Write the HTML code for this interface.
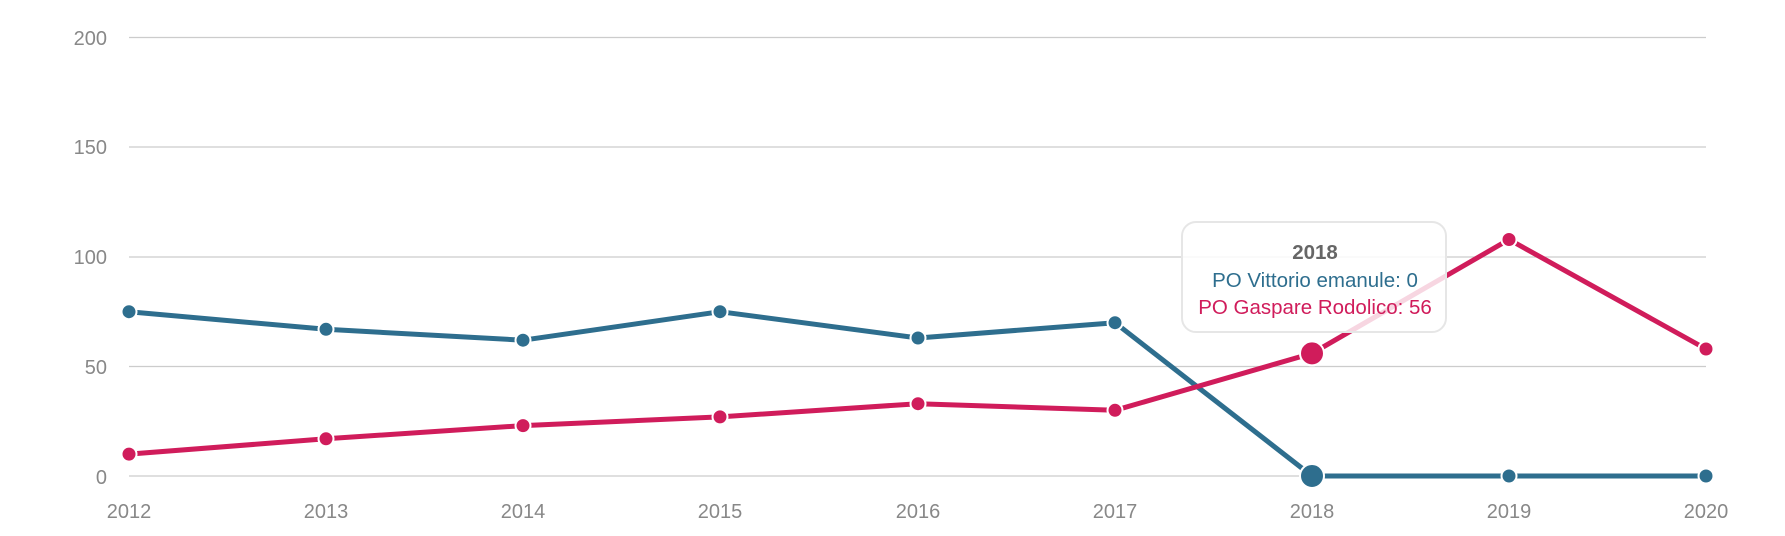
<!DOCTYPE html><html><head><style>body{margin:0;background:#fff}svg{display:block}text{font-family:"Liberation Sans",Arial,sans-serif}</style></head><body>
<svg width="1785" height="536" viewBox="0 0 1785 536">
<g stroke="#ccc" stroke-width="1.2">
<line x1="129" x2="1706" y1="37.5" y2="37.5"/><line x1="129" x2="1706" y1="147" y2="147"/><line x1="129" x2="1706" y1="257" y2="257"/><line x1="129" x2="1706" y1="366.5" y2="366.5"/><line x1="129" x2="1706" y1="476" y2="476"/>
</g>
<g fill="#888" font-size="20" text-anchor="end">
<text x="107" y="45">200</text><text x="107" y="154">150</text><text x="107" y="264">100</text><text x="107" y="374">50</text><text x="107" y="484">0</text>
</g>
<g fill="#888" font-size="20" text-anchor="middle">
<text x="129" y="518">2012</text><text x="326" y="518">2013</text><text x="523" y="518">2014</text><text x="720" y="518">2015</text><text x="918" y="518">2016</text><text x="1115" y="518">2017</text><text x="1312" y="518">2018</text><text x="1509" y="518">2019</text><text x="1706" y="518">2020</text>
</g>
<polyline fill="none" stroke="#2e6e8e" stroke-width="5" stroke-linejoin="round" points="129,311.7 326,329.3 523,340.2 720,311.7 918,338 1115,322.7 1312,476 1509,476 1706,476"/>
<polyline fill="none" stroke="#d01c5b" stroke-width="5" stroke-linejoin="round" points="129,454.1 326,438.8 523,425.6 720,416.9 918,403.7 1115,410.3 1312,353.4 1509,239.5 1706,349"/>
<g fill="#2e6e8e" stroke="#fff" stroke-width="2">
<circle cx="129" cy="311.7" r="7.5"/><circle cx="326" cy="329.3" r="7.5"/><circle cx="523" cy="340.2" r="7.5"/><circle cx="720" cy="311.7" r="7.5"/><circle cx="918" cy="338" r="7.5"/><circle cx="1115" cy="322.7" r="7.5"/><circle cx="1312" cy="476" r="12"/><circle cx="1509" cy="476" r="7.5"/><circle cx="1706" cy="476" r="7.5"/>
</g>
<g fill="#d01c5b" stroke="#fff" stroke-width="2">
<circle cx="129" cy="454.1" r="7.5"/><circle cx="326" cy="438.8" r="7.5"/><circle cx="523" cy="425.6" r="7.5"/><circle cx="720" cy="416.9" r="7.5"/><circle cx="918" cy="403.7" r="7.5"/><circle cx="1115" cy="410.3" r="7.5"/><circle cx="1312" cy="353.4" r="12"/><circle cx="1509" cy="239.5" r="7.5"/><circle cx="1706" cy="349" r="7.5"/>
</g>
<rect x="1182" y="222" width="264" height="110" rx="14" fill="#fff" fill-opacity="0.82" stroke="#e6e6e6" stroke-width="2"/>
<g font-size="20.5" text-anchor="middle">
<text x="1315" y="259" fill="#666" font-weight="bold">2018</text>
<text x="1315" y="287" fill="#2e6e8e">PO Vittorio emanule: 0</text>
<text x="1315" y="314" fill="#d01c5b">PO Gaspare Rodolico: 56</text>
</g>
</svg></body></html>
